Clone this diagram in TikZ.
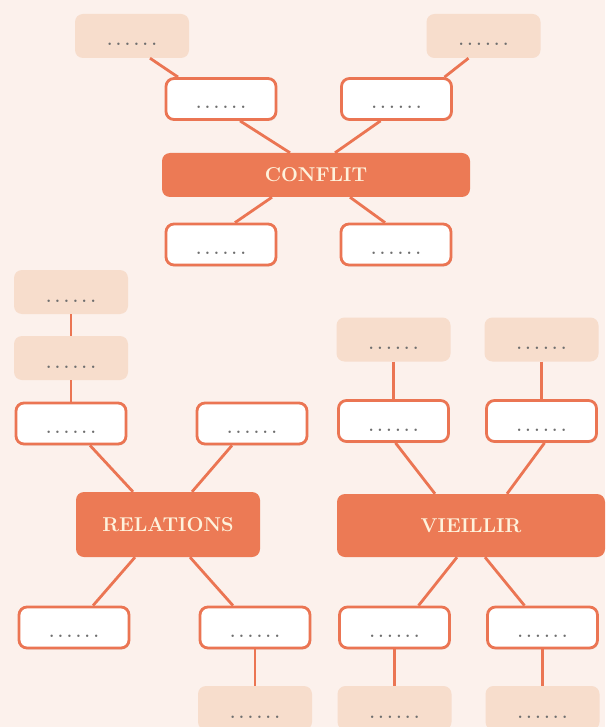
\documentclass[tikz,border=0pt]{standalone}
\usepackage{tikz}
\usetikzlibrary{calc, shadows}

\definecolor{bgpaper}{HTML}{FCF1EC}
\definecolor{mainorange}{HTML}{EC7A55}
\definecolor{edgeorange}{HTML}{EB7553}
\definecolor{pale}{HTML}{F7DDCC}
\definecolor{cream}{HTML}{FEF2DC}
\definecolor{dotgray}{HTML}{6E6E6E}

\newcommand{\blank}{\fontsize{17}{17}\selectfont\bfseries .\kern3.6pt.\kern3.6pt.\kern3.6pt.\kern3.6pt.\kern3.6pt.}

\begin{document}
\begin{tikzpicture}[x=1pt, y=-1pt,
    theme/.style={fill=mainorange, rounded corners=8pt, text=cream,
        font=\fontsize{20}{20}\selectfont\bfseries, inner sep=0pt},
    slot/.style={draw=edgeorange, line width=2.8pt, fill=white, rounded corners=8pt,
        minimum width=110pt, minimum height=41pt, inner sep=0pt,
        text height=20pt, text depth=0pt, text=dotgray,
        drop shadow={opacity=0.18, shadow xshift=1pt, shadow yshift=-1.5pt}},
    hint/.style={fill=pale, rounded corners=8pt,
        minimum width=114pt, minimum height=44pt, inner sep=0pt,
        text height=20pt, text depth=0pt, text=dotgray},
    link/.style={draw=edgeorange, line width=2.8pt}]

        \useasboundingbox (0,0) rectangle (605,727);
        \fill[bgpaper] (0,0) rectangle (605,727);

        % CONFLIT
        \node[theme, minimum width=308pt, minimum height=44pt] (conf) at (316,175) {CONFLIT};
        \node[hint] (cfHintL) at (132,36) {\blank};
        \node[hint] (cfHintR) at (483.5,36) {\blank};
        \node[slot] (cfTL) at (221,99) {\blank};
        \node[slot] (cfTR) at (396.5,99) {\blank};
        \node[slot] (cfBL) at (221,244.5) {\blank};
        \node[slot] (cfBR) at (396,244.5) {\blank};

        \draw[link] ([xshift=18pt]cfHintL.south) -- ([xshift=-43pt]cfTL.north);
        \draw[link] ([xshift=-15pt]cfHintR.south) -- ([xshift=48pt]cfTR.north);
        \draw[link] ([xshift=19pt]cfTL.south) -- ([xshift=-26pt]conf.north);
        \draw[link] ([xshift=-16pt]cfTR.south) -- ([xshift=19pt]conf.north);
        \draw[link] ([xshift=-44pt]conf.south) -- ([xshift=14pt]cfBL.north);
        \draw[link] ([xshift=34pt]conf.south) -- ([xshift=-11pt]cfBR.north);

        % RELATIONS
        \node[theme, minimum width=184pt, minimum height=65pt] (rel) at (168,524.5) {RELATIONS};
        \node[hint] (relHintA) at (71,292) {\blank};
        \node[hint] (relHintB) at (71,358) {\blank};
        \node[slot] (relTL) at (71,423.5) {\blank};
        \node[slot] (relTR) at (252,423.5) {\blank};
        \node[slot] (relBL) at (74,627.5) {\blank};
        \node[slot] (relBR) at (255,627.5) {\blank};
        \node[hint] (relHintC) at (255,708) {\blank};

        \draw[link] (relHintA) -- (relHintB);
        \draw[link] (relHintB) -- (relTL);
        \draw[link] ([xshift=19pt]relTL.south) -- ([xshift=-35pt]rel.north);
        \draw[link] ([xshift=-20pt]relTR.south) -- ([xshift=24pt]rel.north);
        \draw[link] ([xshift=-33pt]rel.south) -- ([xshift=19pt]relBL.north);
        \draw[link] ([xshift=22pt]rel.south) -- ([xshift=-22pt]relBR.north);
        \draw[link] (relBR) -- (relHintC);

        % VIEILLIR
        \node[theme, minimum width=268pt, minimum height=63pt] (vie) at (471,525.5) {VIEILLIR};
        \node[hint] (vieHintL) at (393.5,339.5) {\blank};
        \node[hint] (vieHintR) at (541.5,339.5) {\blank};
        \node[slot] (vieTL) at (393.5,421) {\blank};
        \node[slot] (vieTR) at (541.5,421) {\blank};
        \node[slot] (vieBL) at (394.5,627.5) {\blank};
        \node[slot] (vieBR) at (542.5,627.5) {\blank};
        \node[hint] (vieHintBL) at (394.5,708) {\blank};
        \node[hint] (vieHintBR) at (542.5,708) {\blank};

        \draw[link] (vieHintL) -- (vieTL);
        \draw[link] (vieHintR) -- (vieTR);
        \draw[link] ([xshift=2pt]vieTL.south) -- ([xshift=-36pt]vie.north);
        \draw[link] ([xshift=3pt]vieTR.south) -- ([xshift=36pt]vie.north);
        \draw[link] ([xshift=-14pt]vie.south) -- ([xshift=24pt]vieBL.north);
        \draw[link] ([xshift=14pt]vie.south) -- ([xshift=-18pt]vieBR.north);
        \draw[link] (vieBL) -- (vieHintBL);
        \draw[link] (vieBR) -- (vieHintBR);
    \end{tikzpicture}
\end{document}
